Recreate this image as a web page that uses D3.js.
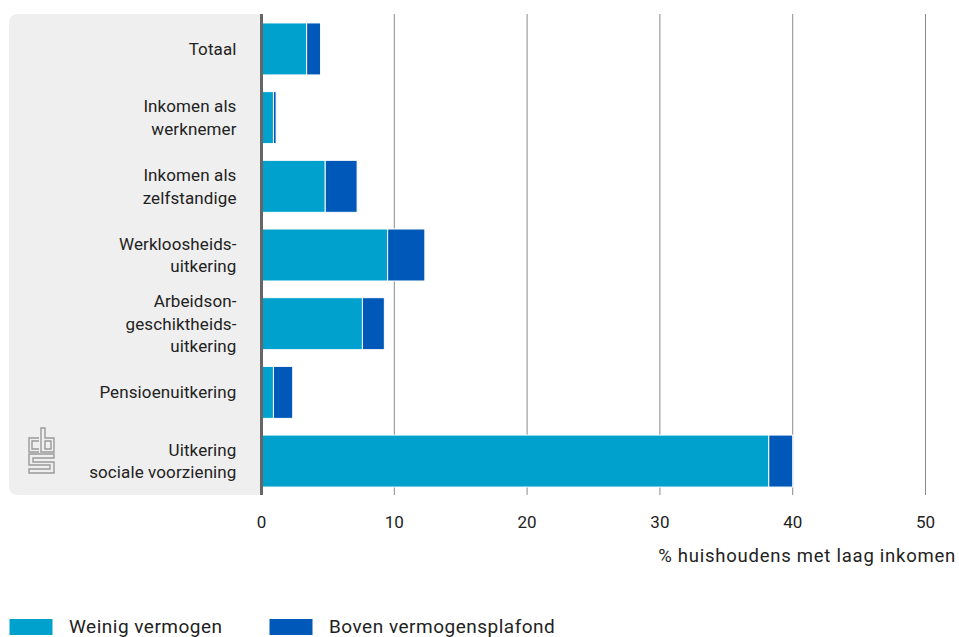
<!DOCTYPE html>
<html>
<head>
<meta charset="utf-8">
<script src="https://cdn.jsdelivr.net/npm/d3@7"></script>
<style>
  body { margin: 0; background: #fff; }
  svg { display: block; font-family: Roboto, "Noto Sans", sans-serif; }
  .cat { font-size: 17px; fill: #222; letter-spacing: 0.1px; }
  .tick-label { font-size: 17px; fill: #222; }
  .axis-title { font-size: 18.5px; fill: #222; letter-spacing: 0.75px; }
  .legend-text { font-size: 19px; fill: #222; letter-spacing: 0.5px; }
</style>
</head>
<body>
<div id="chart"></div>
<script>
// categories (multi-line labels split on "|")
const CATEGORIES = [
  "Totaal",
  "Inkomen als|werknemer",
  "Inkomen als|zelfstandige",
  "Werkloosheids-|uitkering",
  "Arbeidson-|geschiktheids-|uitkering",
  "Pensioenuitkering",
  "Uitkering|sociale voorziening"
];

// % huishoudens met laag inkomen
const WEINIG_VERMOGEN = [3.4, 0.9, 4.8, 9.5, 7.6, 0.9, 38.2];
const BOVEN_PLAFOND   = [1.05, 0.2, 2.4, 2.8, 1.65, 1.45, 1.8];

const SERIES = ["Weinig vermogen", "Boven vermogensplafond"];
const COLORS = ["#00a1cd", "#0058b8"];
const X_TICKS = [0, 10, 20, 30, 40, 50];

const W = 959, H = 637;
const svg = d3.select("#chart").append("svg")
    .attr("width", W).attr("height", H);

const x = d3.scaleLinear().domain([0, 50]).range([261.5, 925.5]);
const y = d3.scaleBand().domain(CATEGORIES).range([14.7, 495.3]).paddingInner(0.243).paddingOuter(0.12);

// grey label panel
svg.append("path")
    .attr("fill", "#efefef")
    .attr("d", `M${x(0)},14 H18 Q9,14 9,23 V486 Q9,495 18,495 H${x(0)} Z`);

// gridlines
svg.append("g").selectAll("line")
  .data(X_TICKS.filter(d => d > 0))
  .join("line")
    .attr("x1", d => x(d)).attr("x2", d => x(d))
    .attr("y1", 14).attr("y2", 495)
    .attr("stroke", "#8a8a8a").attr("stroke-width", 1);

// stacked bars
const stacked = d3.stack().keys([0, 1])(CATEGORIES.map((c, i) => ({cat: c, 0: WEINIG_VERMOGEN[i], 1: BOVEN_PLAFOND[i]})));
svg.append("g").selectAll("g")
  .data(stacked)
  .join("g")
    .attr("fill", (d, i) => COLORS[i])
  .selectAll("rect")
  .data(d => d)
  .join("rect")
    .attr("x", d => x(d[0]))
    .attr("y", d => y(d.data.cat))
    .attr("width", d => x(d[1]) - x(d[0]))
    .attr("height", y.bandwidth())
    .attr("stroke", "#fff").attr("stroke-width", 1);

// axis line at 0
svg.append("line")
    .attr("x1", x(0)).attr("x2", x(0))
    .attr("y1", 14).attr("y2", 495)
    .attr("stroke", "#666").attr("stroke-width", 3);

// category labels
const LINE_H = 22.7;
svg.append("g").selectAll("text")
  .data(CATEGORIES)
  .join("text")
    .attr("class", "cat")
    .attr("text-anchor", "end")
    .attr("x", 236.5)
    .each(function(d){
      const lines = d.split("|");
      const mid = y(d) + y.bandwidth() / 2;
      const first = mid - (lines.length - 1) * LINE_H / 2 + 6;
      d3.select(this).selectAll("tspan")
        .data(lines)
        .join("tspan")
          .attr("x", 236.5)
          .attr("y", (l, j) => first + j * LINE_H)
          .text(l => l);
    });

// tick labels
svg.append("g").selectAll("text")
  .data(X_TICKS)
  .join("text")
    .attr("class", "tick-label")
    .attr("text-anchor", "middle")
    .attr("x", d => x(d)).attr("y", 527.5)
    .text(d => d);

svg.append("text")
    .attr("class", "axis-title")
    .attr("text-anchor", "end")
    .attr("x", 956).attr("y", 561.5)
    .text("% huishoudens met laag inkomen");

// legend
const legend = svg.append("g").selectAll("g")
  .data(SERIES)
  .join("g")
    .attr("transform", (d, i) => `translate(${9.5 + i * 260},619)`);
legend.append("rect")
    .attr("width", 43).attr("height", 16)
    .attr("fill", (d, i) => COLORS[i]);
legend.append("text")
    .attr("class", "legend-text")
    .attr("x", 59.5).attr("y", 14)
    .text(d => d);

// cbs logo (outline style)
const logo = svg.append("g")
    .attr("transform", "translate(28,427)")
    .attr("fill", "none").attr("stroke", "#9a9a9a").attr("stroke-width", 1.4);
logo.append("path").attr("d",
  "M11,11 H1 V25 H11 M11,14 H4 V22 H11");
logo.append("path").attr("d",
  "M13,25 V1 H17 V11 H26 V25 Z M17,14 H23 V22 H17 Z");
logo.append("path").attr("d",
  "M26,27 H1 V38 H22 V42 H1 V46 H26 V35 H5 V31 H26 Z");
</script>
</body>
</html>
